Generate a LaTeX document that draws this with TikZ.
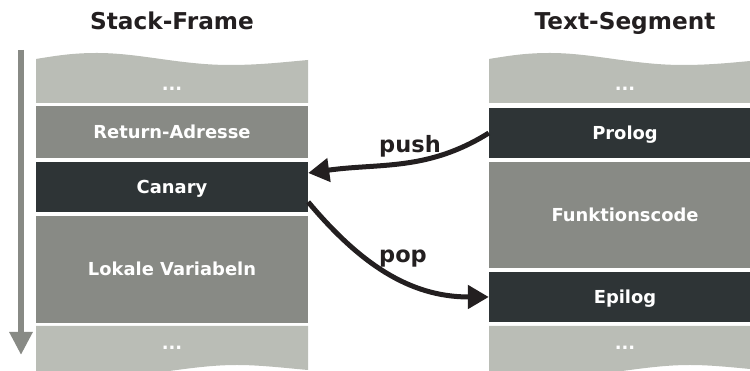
\documentclass[tikz,border=0pt]{standalone}
\usepackage{fontspec}
\setmainfont{DejaVu Sans}
\usetikzlibrary{arrows.meta}
\definecolor{alulight}{HTML}{BABDB6}
\definecolor{alumid}{HTML}{888A85}
\definecolor{aludark}{HTML}{2E3436}
\definecolor{ink}{HTML}{231F20}

\begin{document}
\begin{tikzpicture}[x=1pt,y=1pt,
  seg/.style={rectangle, inner sep=0pt, minimum width=272pt, text=white,
    font=\fontsize{17.9}{20}\selectfont\bfseries, text height=12.9pt, text depth=0pt},
  darkseg/.style={seg, fill=aludark},
  midseg/.style={seg, fill=alumid},
  dotlabel/.style={text=white, font=\fontsize{17.9}{20}\selectfont\bfseries, anchor=base, inner sep=0pt},
  heading/.style={font=\fontsize{23.2}{26}\selectfont\bfseries, text=ink, anchor=base, inner sep=0pt},
  oplabel/.style={font=\fontsize{22.5}{26}\selectfont\bfseries, text=ink, anchor=base, inner sep=0pt},
  flow/.style={line width=5pt, draw=ink, -{Triangle[length=21pt,width=23pt]}},
  growth/.style={line width=6pt, draw=alumid, -{Triangle[length=23pt,width=22pt]}},
  wavetop/.pic={
    \fill[alulight] (0,268) -- (0,312) .. controls (24,316) and (39,318) .. (61,318)
      .. controls (104,318) and (144,306) .. (194,306)
      .. controls (224,306) and (249,309) .. (272,311) -- (272,268) -- cycle;
  },
  wavebottom/.pic={
    \fill[alulight] (0,45) -- (272,45) -- (272,1) .. controls (249,3) and (224,6) .. (201,6)
      .. controls (154,6) and (114,-6) .. (61,-6)
      .. controls (39,-6) and (24,-4) .. (0,-1) -- cycle;
  }
]
\clip (0,0) rectangle (750,371);

% headings
\node[heading] (hstack) at (172,341) {Stack-Frame};
\node[heading] (htext) at (625,341) {Text-Segment};

% direction of stack growth
\coordinate (growtop) at (21,321);
\coordinate (growend) at (21,16);
\draw[growth] (growtop) -- (growend);

% stack frame column
\pic at (36,0) {wavetop};
\node[dotlabel] (stackdotsT) at (172,280) {...};
\node[midseg, minimum height=52pt] (ret) at (172,239) {Return-Adresse};
\node[darkseg, minimum height=50pt] (canary) at (172,184) {Canary};
\node[midseg, minimum height=107pt] (locals) at (172,101.5) {Lokale Variabeln};
\pic at (36,0) {wavebottom};
\node[dotlabel] (stackdotsB) at (172,21) {...};

% text segment column
\pic at (489,0) {wavetop};
\node[dotlabel] (textdotsT) at (625,280) {...};
\node[darkseg, minimum height=50pt] (prolog) at (625,238) {Prolog};
\node[midseg, minimum height=106pt] (body) at (625,156) {Funktionscode};
\node[darkseg, minimum height=50pt] (epilog) at (625,74) {Epilog};
\pic at (489,0) {wavebottom};
\node[dotlabel] (textdotsB) at (625,21) {...};

% canary handling
\draw[flow] (prolog.west) to[out=212, in=8] ([yshift=14pt]canary.east);
\draw[flow] ([yshift=-15pt]canary.east) to[out=-50, in=180] (epilog.west);
\node[oplabel] (push) at (410,218) {push};
\node[oplabel] (pop) at (403,108) {pop};
\end{tikzpicture}
\end{document}
